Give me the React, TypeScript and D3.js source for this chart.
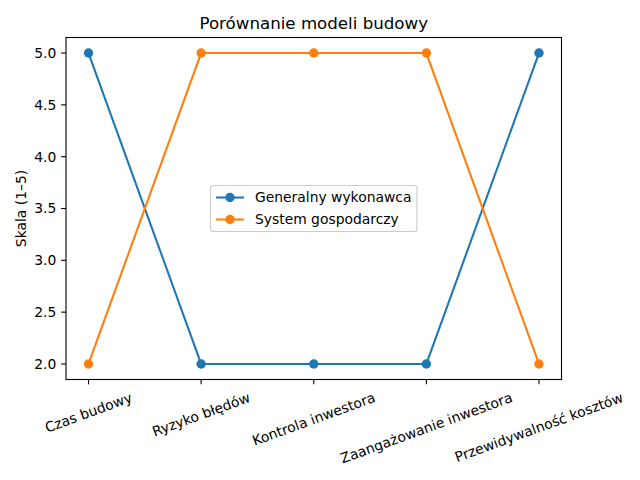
import React from "react";
import * as d3 from "d3";

const categories = ["Czas budowy", "Ryzyko błędów", "Kontrola inwestora", "Zaangażowanie inwestora", "Przewidywalność kosztów"];
const generalny = [5, 2, 2, 2, 5];
const system = [2, 5, 5, 5, 2];
const seriesNames = ["Generalny wykonawca", "System gospodarczy"];
const yTicks = [2.0, 2.5, 3.0, 3.5, 4.0, 4.5, 5.0];
const colors = ["#1f77b4", "#ff7f0e"];

const FONT = "DejaVu Sans, sans-serif";
const FS = 13.89;

function measure(text: string, size = FS): number {
  const c = document.createElement("canvas");
  const ctx = c.getContext("2d")!;
  ctx.font = `${size}px DejaVu Sans`;
  return ctx.measureText(text).width;
}

export default function App() {
  const W = 640, H = 480;
  const left = 66, right = 561.5, top = 37.5, bottom = 379.5;
  const x = d3.scaleLinear().domain([-0.2, categories.length - 1 + 0.2]).range([left, right]);
  const y = d3.scaleLinear().domain([2 - 0.15, 5 + 0.15]).range([bottom, top]);
  const line = d3.line<number>().x((_, i) => x(i)).y(d => y(d));
  const data = [generalny, system];
  const R = 4.7;

  const ang = (20 * Math.PI) / 180;
  const th = FS * 1.17;

  const legendTextW = Math.max(...seriesNames.map(s => measure(s)));
  const lw = 5.56 + 27.8 + 11.1 + legendTextW + 5.56;
  const lh = 46;
  const lcx = (left + right) / 2, lcy = (top + bottom) / 2;
  const lx0 = lcx - lw / 2, ly0 = lcy - lh / 2;

  return (
    <svg width={W} height={H} style={{ position: "absolute", left: 0, top: 0 }} fontFamily={FONT}>
      <rect width={W} height={H} fill="white" />
      <text x={(left + right) / 2} y={29} textAnchor="middle" fontSize={16.67} fill="#000">Porównanie modeli budowy</text>
      {data.map((d, si) => (
        <g key={si}>
          <path d={line(d) || ""} fill="none" stroke={colors[si]} strokeWidth={2.08} />
          {d.map((v, i) => (
            <circle key={i} cx={x(i)} cy={y(v)} r={R} fill={colors[si]} />
          ))}
        </g>
      ))}
      <rect x={left} y={top} width={right - left} height={bottom - top} fill="none" stroke="#000" strokeWidth={1.1} />
      {yTicks.map(t => (
        <g key={t}>
          <line x1={left} x2={left - 4.86} y1={y(t)} y2={y(t)} stroke="#000" strokeWidth={1.1} />
          <text x={left - 9.7} y={y(t)} dy="0.35em" textAnchor="end" fontSize={FS} fill="#000">{t.toFixed(1)}</text>
        </g>
      ))}
      {categories.map((c, i) => {
        const w = measure(c);
        const bh = w * Math.sin(ang) + th * Math.cos(ang);
        const cx = x(i);
        const cy = bottom + 4.86 + 4.86 + bh / 2;
        return (
          <g key={c}>
            <line x1={cx} x2={cx} y1={bottom} y2={bottom + 4.86} stroke="#000" strokeWidth={1.1} />
            <text x={cx} y={cy} dy="0.35em" textAnchor="middle" fontSize={FS} fill="#000" transform={`rotate(-20 ${cx} ${cy})`}>{c}</text>
          </g>
        );
      })}
      <text x={21} y={(top + bottom) / 2} textAnchor="middle" dy="0.35em" fontSize={FS} fill="#000" transform={`rotate(-90 21 ${(top + bottom) / 2})`}>Skala (1–5)</text>
      <g>
        <rect x={lx0} y={ly0} width={lw} height={lh} rx={2.8} fill="white" fillOpacity={0.8} stroke="#cccccc" strokeWidth={1.1} />
        {seriesNames.map((s, i) => {
          const ry = ly0 + 12 + i * 22;
          const hx0 = lx0 + 5.56, hx1 = hx0 + 27.8;
          return (
            <g key={s}>
              <line x1={hx0} x2={hx1} y1={ry} y2={ry} stroke={colors[i]} strokeWidth={2.08} />
              <circle cx={(hx0 + hx1) / 2} cy={ry} r={R} fill={colors[i]} />
              <text x={hx1 + 11.1} y={ry} dy="0.35em" fontSize={FS} fill="#000">{s}</text>
            </g>
          );
        })}
      </g>
    </svg>
  );
}
